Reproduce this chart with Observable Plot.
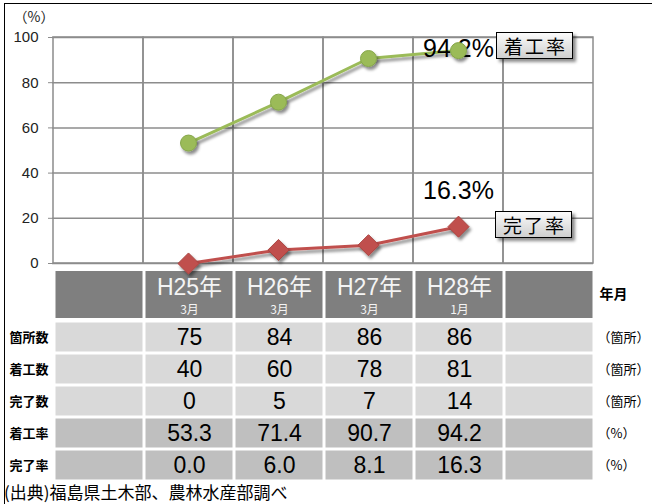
<!DOCTYPE html>
<html><head><meta charset="utf-8">
<script src="https://cdn.jsdelivr.net/npm/d3@7"></script>
<script src="https://cdn.jsdelivr.net/npm/@observablehq/plot@0.6"></script>
<style>
body{margin:0;background:#fff;}
#wrap{position:relative;width:652px;height:504px;overflow:hidden;background:#fff;font-family:"Liberation Sans","Noto Sans CJK JP",sans-serif;}
#frame{position:absolute;left:4px;top:3px;right:-10px;bottom:-10px;border-left:1.5px solid #000;border-top:1.5px solid #000;}
.abs{position:absolute;left:0;}
.tag{position:absolute;font-family:"Noto Sans CJK JP",sans-serif;font-size:19px;line-height:25px;padding:0 5px 0 7px;border:1.5px solid #000;background:linear-gradient(#fbfbfb,#cfcfcf);box-shadow:3px 3px 3px rgba(0,0,0,0.45);letter-spacing:2px;color:#000;}
#caption{position:absolute;left:4px;top:481px;font-family:"Noto Sans CJK JP",sans-serif;font-size:17px;line-height:21px;color:#000;}
</style></head><body>
<div id="wrap">
  <div id="frame"></div>
  <div id="thead" class="abs" style="top:271px"></div>
  <div id="tbody" class="abs" style="top:319px"></div>
  <div id="chart" class="abs" style="top:0"></div>
  <div class="tag" style="left:496px;top:32px">着工率</div>
  <div class="tag" style="left:495px;top:211px">完了率</div>
  <div id="caption">(出典)福島県土木部、農林水産部調べ</div>
</div>
<script>
// ---- data ----
const years = ["H25年", "H26年", "H27年", "H28年"];
const months = ["3月", "3月", "3月", "1月"];
const startRate = [53.3, 71.4, 90.7, 94.2];     // 着工率
const completeRate = [0.0, 6.0, 8.1, 16.3];     // 完了率
const sites = [75, 84, 86, 86];                 // 箇所数
const started = [40, 60, 78, 81];               // 着工数
const completed = [0, 5, 7, 14];                // 完了数
const rowNames = ["箇所数", "着工数", "完了数", "着工率", "完了率"];
const rowUnits = ["（箇所）", "（箇所）", "（箇所）", "（%）", "（%）"];
const yTicks = [0, 20, 40, 60, 80, 100];

const cols = ["_a", ...years, "_b"];
const jp = '"Noto Sans CJK JP", sans-serif';
const num = '"Liberation Sans", "Noto Sans CJK JP", sans-serif';

// ---- chart ----
const series = years.map((yr, i) => ({yr, start: startRate[i], done: completeRate[i]}));
const last = series.slice(-1);
const grid = "#8c8c8c";
const chart = Plot.plot({
  width: 652, height: 270,
  marginLeft: 52, marginRight: 59, marginTop: 37, marginBottom: 7,
  x: {type: "band", domain: cols, padding: 0, axis: null},
  y: {domain: [0, 100]},
  style: {background: "transparent", overflow: "visible", fontFamily: num, fontSize: "15px", color: "#222"},
  marks: [
    Plot.barY(cols, {x: d => d, y1: 0, y2: 100, fill: "none", stroke: grid, strokeWidth: 1.5, inset: 0}),
    Plot.ruleY(yTicks, {stroke: grid, strokeWidth: 1.5}),
    Plot.axisY({ticks: yTicks, tickSize: 4, tickPadding: 10, stroke: grid, fill: "#222", fontSize: 15, label: null}),
    Plot.text(["（%）"], {frameAnchor: "top-left", dx: -39, dy: -20, textAnchor: "start", lineAnchor: "middle", fontSize: 14, fill: "#222", fontFamily: jp}),
    Plot.line(series, {x: "yr", y: "start", stroke: "#9bbb59", strokeWidth: 3}),
    Plot.line(series, {x: "yr", y: "done", stroke: "#c0504d", strokeWidth: 3}),
    Plot.text(last, {x: "yr", y: "start", text: d => d.start.toFixed(1) + "%", fontSize: 25, dy: -2, fill: "#000", fontFamily: num}),
    Plot.text(last, {x: "yr", y: "done", text: d => d.done.toFixed(1) + "%", fontSize: 25, dy: -36, fill: "#000", fontFamily: num}),
    Plot.dot(series, {x: "yr", y: "start", r: 8, fill: "#9bbb59", stroke: "#86a64a", strokeWidth: 1}),
    Plot.dot(series, {x: "yr", y: "done", symbol: "diamond2", r: 9.5, fill: "#c0504d", stroke: "#a94441", strokeWidth: 1})
  ]
});
d3.select(chart).insert("defs", ":first-child").html(
  '<filter id="sh" x="-50%" y="-50%" width="200%" height="200%"><feDropShadow dx="2" dy="3" stdDeviation="1.6" flood-color="#000" flood-opacity="0.45"/></filter>');
chart.querySelectorAll('g[aria-label="dot"], g[aria-label="line"]').forEach(g => g.setAttribute("filter", "url(#sh)"));
document.getElementById("chart").append(chart);

// ---- table header ----
const thead = Plot.plot({
  width: 652, height: 47,
  marginLeft: 53, marginRight: 58, marginTop: 0, marginBottom: 0,
  x: {type: "band", domain: cols, padding: 0, axis: null},
  y: {domain: [0, 1], axis: null},
  style: {background: "transparent", overflow: "visible", fontFamily: num},
  marks: [
    Plot.barY(cols, {x: d => d, y1: 0, y2: 1, fill: "#7f7f7f", insetLeft: 1.5, insetRight: 1.5}),
    Plot.text(years, {x: d => d, frameAnchor: "top", lineAnchor: "middle", dy: 16, fill: "#f4f4f4", fontSize: 23}),
    Plot.text(years, {x: d => d, text: (d, i) => months[i], frameAnchor: "top", lineAnchor: "middle", dy: 39, fill: "#f4f4f4", fontSize: 12, fontFamily: jp}),
    Plot.text(["年月"], {frameAnchor: "right", lineAnchor: "middle", dx: 5, textAnchor: "start", fontWeight: "bold", fontSize: 14, fill: "#000", fontFamily: jp})
  ]
});
document.getElementById("thead").append(thead);

// ---- table body ----
const rowValues = [sites, started, completed, startRate, completeRate];
const rowDecimals = [0, 0, 0, 1, 1];
const rowFill = ["#d9d9d9", "#d9d9d9", "#d9d9d9", "#bfbfbf", "#bfbfbf"];
const bg = rowNames.flatMap((row, r) => cols.map(col => ({row, col, fill: rowFill[r]})));
const cells = rowNames.flatMap((row, r) => years.map((col, i) => ({row, col, text: rowValues[r][i].toFixed(rowDecimals[r])})));
const tbody = Plot.plot({
  width: 652, height: 164,
  marginLeft: 53, marginRight: 58, marginTop: 0, marginBottom: 0,
  x: {type: "band", domain: cols, padding: 0, axis: null},
  y: {type: "band", domain: rowNames, padding: 0},
  color: {type: "identity"},
  style: {background: "transparent", overflow: "visible", fontFamily: num, color: "#000"},
  marks: [
    Plot.cell(bg, {x: "col", y: "row", fill: "fill", inset: 1.5}),
    Plot.text(cells, {x: "col", y: "row", text: "text", fontSize: 23, fill: "#000"}),
    Plot.axisY({anchor: "left", tickSize: 0, tickPadding: 5, fontSize: 13, fontWeight: "bold", fontFamily: jp, label: null}),
    Plot.axisY({anchor: "right", tickSize: 0, tickPadding: 3, tickFormat: (d) => rowUnits[rowNames.indexOf(d)], fontSize: 13, fontFamily: jp, label: null})
  ]
});
document.getElementById("tbody").append(tbody);
</script>
</body></html>
